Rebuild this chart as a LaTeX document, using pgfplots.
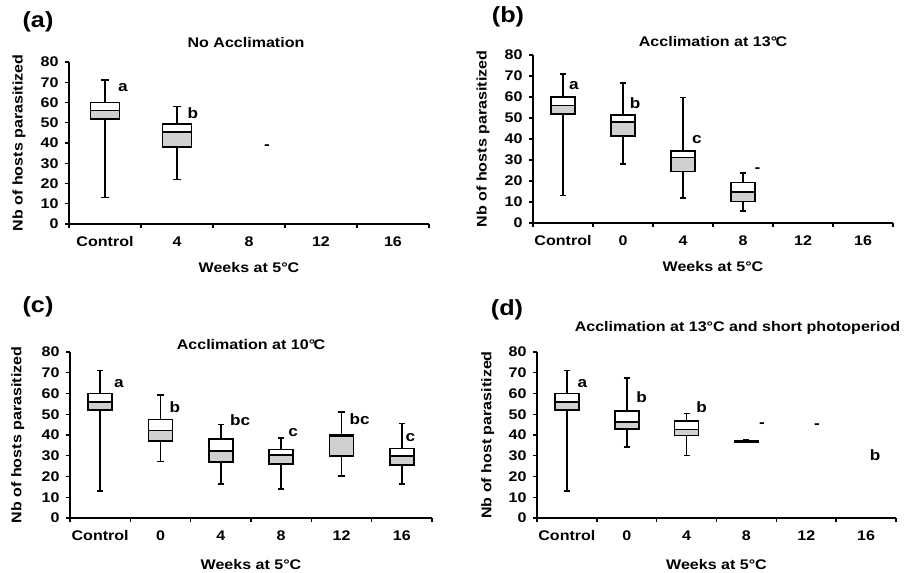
\documentclass[border=0pt]{standalone}
\usepackage{fontspec}
\setmainfont{Liberation Sans}[FakeStretch=1.15]
\usepackage{pgfplots}
\pgfplotsset{compat=1.18}
\usepgfplotslibrary{statistics}

\definecolor{boxgray}{RGB}{208,208,208}
\newcommand\fs{\fontsize{14}{16}\selectfont\bfseries}

% one box: position, min, Q1, median, Q3, max
\newcommand\bx[6]{\addplot[black, line width=1.6bp, boxplot prepared={draw position=#1,
  lower whisker=#2, lower quartile=#3, median=#4, upper quartile=#5, upper whisker=#6,
  box extend=0.4, whisker extend=0.1}] coordinates {};}

\pgfplotsset{
  boxplot/draw/box/.code={%
    \draw[black, line width=1.6bp, fill=boxgray] (boxplot box cs:\pgfplotsboxplotvalue{lower quartile},0)
      rectangle (boxplot box cs:\pgfplotsboxplotvalue{median},1);
    \draw[black, line width=1.6bp, fill=white] (boxplot box cs:\pgfplotsboxplotvalue{median},0)
      rectangle (boxplot box cs:\pgfplotsboxplotvalue{upper quartile},1);
  },
  panel/.style={
    scale only axis, anchor=south west, clip=false, boxplot/draw direction=y,
    ymin=0, ymax=80, ytick={0,10,...,80}, xmin=-0.5,
    axis x line=bottom, axis y line=left, axis line style={-, line width=1.7bp},
    xtick={0,...,5}, minor xtick={-0.5,0.5,...,5.5},
    tick style={black, line width=1.4bp}, major x tick style={draw=none},
    tick align=outside, major tick length=4bp, minor tick length=4bp,
    tick label style={font=\fs}, /pgf/number format/assume math mode=true,
    xticklabel style={yshift=-5bp}, yticklabel style={xshift=-3bp},
    every axis x label/.style={at={(axis description cs:0.5,0)}, anchor=center, font=\fs},
    every axis title/.style={at={(axis description cs:0.5,1)}, anchor=center, font=\fs},
  },
  ylab/.style={every axis y label/.style={at={(axis description cs:#1,0.5)}, rotate=90, anchor=center, font=\fs}},
}
\tikzset{lt/.style={font=\fontsize{15}{17}\selectfont\bfseries, inner sep=0pt},
  pl/.style={font=\fontsize{22}{24}\selectfont\bfseries, inner sep=0pt}}

\begin{document}
\begin{tikzpicture}
\useasboundingbox (0,0) rectangle (904bp,573bp);

% (a)
\begin{axis}[panel, at={(69bp,349bp)}, width=360bp, height=162bp, xmax=4.5,
  xticklabels={Control,4,8,12,16}, ylab=-0.139,
  ylabel={Nb of hosts parasitized}, xlabel={Weeks at 5°C}, xlabel style={yshift=-44bp},
  title={No Acclimation}, title style={yshift=19bp, xshift=-3bp}]
\bx{0}{13}{52}{56}{60}{71}
\bx{1}{22}{38}{45.5}{49.5}{58}
\node[lt] at (axis cs:0.25,67.2) {a};
\node[lt] at (axis cs:1.22,54.8) {b};
\node[lt] at (axis cs:2.25,38) {-};
\end{axis}

% (b)
\begin{axis}[panel, at={(533bp,350bp)}, width=360bp, height=168bp, xmax=5.5,
  xticklabels={Control,0,4,8,12,16}, ylab=-0.139,
  ylabel={Nb of hosts parasitized}, xlabel={Weeks at 5°C}, xlabel style={yshift=-44bp},
  title={Acclimation at 13°\kern-0.12em C}, title style={yshift=13bp}]
\bx{0}{13}{52}{56}{60}{71}
\bx{1}{28}{41.5}{48}{51.3}{66.7}
\bx{2}{12}{24.5}{31.2}{34.2}{59.8}
\bx{3}{5.8}{10.3}{14.9}{19.3}{23.8}
\node[lt] at (axis cs:0.18,65.4) {a};
\node[lt] at (axis cs:1.2,57) {b};
\node[lt] at (axis cs:2.23,39.5) {c};
\node[lt] at (axis cs:3.24,25.2) {-};
\end{axis}

% (c)
\begin{axis}[panel, at={(70bp,55bp)}, width=362bp, height=166bp, xmax=5.5,
  xticklabels={Control,0,4,8,12,16}, ylab=-0.144,
  ylabel={Nb of hosts parasitized}, xlabel={Weeks at 5°C}, xlabel style={yshift=-47bp},
  title={Acclimation at 10°\kern-0.12em C}, title style={yshift=7bp}]
\bx{0}{13}{52}{56}{60}{71}
\bx{1}{27.3}{37.1}{42.2}{47.5}{59.4}
\bx{2}{16.5}{27}{32.3}{38.2}{45}
\bx{3}{14.1}{26}{30.5}{33}{38.5}
\bx{4}{20.2}{29.9}{39.4}{40.2}{51.2}
\bx{5}{16.5}{25.4}{29.9}{33.4}{45.5}
\node[lt] at (axis cs:0.31,64.7) {a};
\node[lt] at (axis cs:1.24,53.5) {b};
\node[lt] at (axis cs:2.32,47.1) {bc};
\node[lt] at (axis cs:3.2,41.4) {c};
\node[lt] at (axis cs:4.3,47.4) {bc};
\node[lt] at (axis cs:5.14,39) {c};
\end{axis}

% (d)
\begin{axis}[panel, at={(537bp,55bp)}, width=359bp, height=166bp, xmax=5.5,
  xticklabels={Control,0,4,8,12,16}, ylab=-0.137,
  ylabel={Nb of host parasitized}, xlabel={Weeks at 5°C}, xlabel style={yshift=-47bp},
  title={Acclimation at 13°C and short photoperiod}, title style={yshift=24bp, xshift=21bp}]
\bx{0}{13}{52}{56}{60}{71}
\bx{1}{34.2}{43}{46.3}{51.6}{67.5}
\bx{2}{30.2}{39.8}{42.6}{46.7}{50.3}
\bx{3}{36.3}{36.6}{37}{37.4}{37.8}
\node[lt] at (axis cs:0.26,64.7) {a};
\node[lt] at (axis cs:1.25,58) {b};
\node[lt] at (axis cs:2.25,53.2) {b};
\node[lt] at (axis cs:3.26,44.7) {-};
\node[lt] at (axis cs:4.18,44.2) {-};
\node[lt] at (axis cs:5.15,30.5) {b};
\end{axis}

\node[pl] at (38bp,551bp) {(a)};
\node[pl] at (508bp,556bp) {(b)};
\node[pl] at (38bp,266bp) {(c)};
\node[pl] at (507bp,263bp) {(d)};
\end{tikzpicture}
\end{document}
